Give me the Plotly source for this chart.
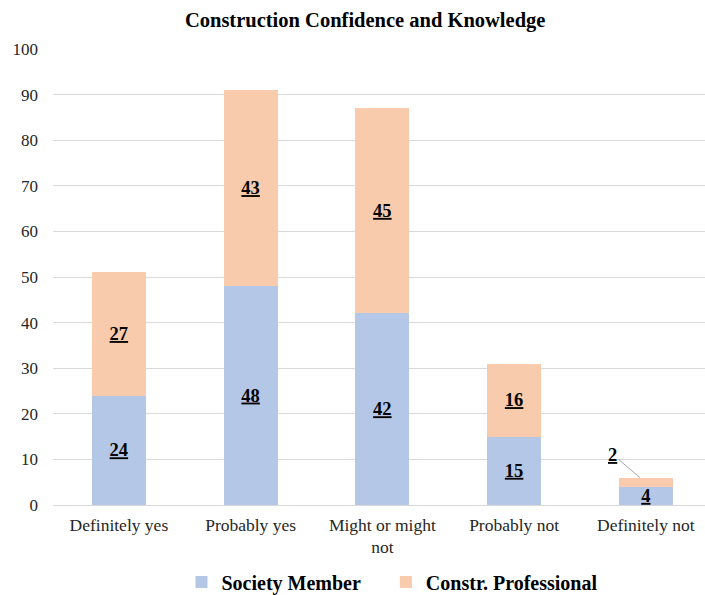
import plotly.graph_objects as go

categories = ["Definitely yes", "Probably yes", "Might or might<br>not", "Probably not", "Definitely not"]
society_member = [24, 48, 42, 15, 4]
constr_professional = [27, 43, 45, 16, 2]

BLUE = "#B4C7E7"
PEACH = "#F8CBAD"
FONT = "Liberation Serif"

label_font = dict(family=FONT, size=18.5, color="black", weight="bold", lineposition="under")

# the smallest segment gets its label placed outside with a leader line
prof_text = [str(v) if v >= 5 else "" for v in constr_professional]

# trailing non-breaking spaces widen the gap between the two legend entries
GAP = "\u00a0" * 4

fig = go.Figure()
fig.add_trace(go.Bar(
    x=categories, y=society_member, name="Society Member" + GAP,
    marker=dict(color=BLUE, line=dict(width=0)),
    text=[str(v) for v in society_member], textposition="inside", textangle=0,
    insidetextanchor="middle", textfont=label_font, constraintext="none",
    cliponaxis=False,
))
fig.add_trace(go.Bar(
    x=categories, y=constr_professional, name="Constr. Professional",
    marker=dict(color=PEACH, line=dict(width=0)),
    text=prof_text, textposition="inside", textangle=0,
    insidetextanchor="middle", textfont=label_font, constraintext="none",
    cliponaxis=False,
))

small_idx = 4
fig.add_annotation(
    x=small_idx - 0.045, y=society_member[small_idx] + constr_professional[small_idx],
    xref="x", yref="y",
    text=str(constr_professional[small_idx]),
    font=label_font,
    showarrow=True, arrowhead=0, arrowwidth=1, arrowcolor="#A6A6A6",
    ax=-27, ay=-23, standoff=0,
)

fig.update_layout(
    barmode="stack",
    bargap=0.59,
    width=705, height=595,
    margin=dict(l=53, r=0, t=49, b=90, autoexpand=False),
    paper_bgcolor="white", plot_bgcolor="white",
    title=dict(text="<b>Construction Confidence and Knowledge</b>",
               x=0.518, xanchor="center", y=0.966, yanchor="middle",
               font=dict(family=FONT, size=20.5, color="black")),
    font=dict(family=FONT, color="#262626"),
    uniformtext=dict(minsize=18, mode="show"),
    legend=dict(orientation="h", xref="container", yref="container",
                x=0.556, xanchor="center", y=0.022, yanchor="middle",
                font=dict(family=FONT, size=20, color="black", weight="bold"),
                itemwidth=30, traceorder="normal",
                tracegroupgap=0),
    showlegend=True,
)
fig.update_xaxes(
    range=[-0.5, 4.449], showgrid=False, showline=False, ticks="",
    ticklabelstandoff=7,
    tickfont=dict(family=FONT, size=17.5, color="#262626"),
)
fig.update_yaxes(
    range=[0, 100], dtick=10, showgrid=True, gridcolor="#D9D9D9", gridwidth=1,
    zeroline=True, zerolinecolor="#D9D9D9", zerolinewidth=1,
    showline=False, ticks="", ticklabelstandoff=14,
    tickfont=dict(family=FONT, size=17, color="#262626"),
)

fig.write_html("out.html")
